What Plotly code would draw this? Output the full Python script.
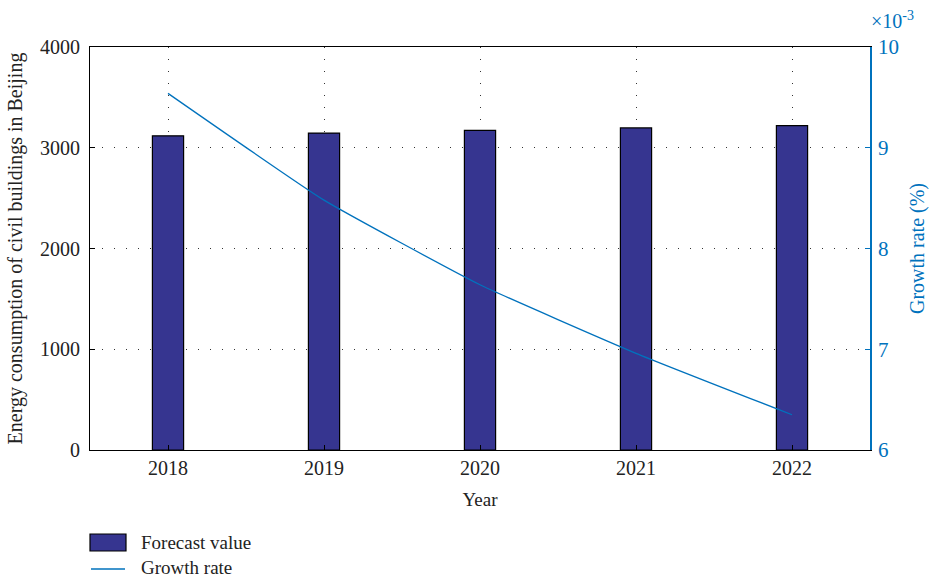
import plotly.graph_objects as go

years = [2018, 2019, 2020, 2021, 2022]
forecast = [3118, 3146, 3173, 3197, 3219]
growth_e3 = [9.54, 8.48, 7.64, 6.96, 6.35]   # growth rate, x10^-3

BLUE = "#0072BD"
BAR = "#363590"
FONT = "Liberation Serif"
GRID = "#333333"
DOT = "1px,11px"

W, H = 929, 577
L, R, T, B = 90, 59, 47, 0
PB = 450  # pixel bottom of plot
ph = H - T - B
dom_bottom = (H - B - PB) / ph

def px(X):
    return (X - L) / (W - L - R)

def py(Y):
    return (H - B - Y) / ph

fig = go.Figure()
fig.add_trace(go.Bar(x=years, y=forecast, name="Forecast value", width=0.2,
                     marker=dict(color=BAR, line=dict(color="black", width=1.2)),
                     yaxis="y", showlegend=False))
fig.add_trace(go.Scatter(x=years, y=growth_e3, name="Growth rate", mode="lines",
                         line=dict(color=BLUE, width=1.3, shape="spline", smoothing=0.4),
                         yaxis="y2", showlegend=False))

shapes = [
    dict(type="rect", xref="paper", yref="paper", x0=px(90), x1=px(126), y0=py(551), y1=py(534),
         fillcolor=BAR, line=dict(color="black", width=1.2)),
    dict(type="line", xref="paper", yref="paper", x0=px(91), x1=px(125), y0=py(569), y1=py(569),
         line=dict(color=BLUE, width=1.3)),
]
annotations = [
    dict(text="×10<sup>-3</sup>", xref="paper", yref="paper",
         x=1.0, y=1.0, xanchor="left", yanchor="bottom", yshift=13, xshift=-1,
         showarrow=False, font=dict(size=20, color=BLUE, family=FONT)),
    dict(text="Forecast value", xref="paper", yref="paper", x=px(139), y=py(542),
         xanchor="left", yanchor="middle", showarrow=False, font=dict(size=19, color="#222", family=FONT)),
    dict(text="Growth rate", xref="paper", yref="paper", x=px(139), y=py(567),
         xanchor="left", yanchor="middle", showarrow=False, font=dict(size=19, color="#222", family=FONT)),
]

fig.update_layout(
    width=W, height=H,
    margin=dict(l=L, r=R, t=T, b=B, autoexpand=False),
    plot_bgcolor="white", paper_bgcolor="white",
    font=dict(family=FONT, size=19, color="#222"),
    showlegend=False,
    shapes=shapes,
    annotations=annotations,
    xaxis=dict(range=[2017.5, 2022.5], tickvals=years, ticktext=[str(y) for y in years],
               anchor="y", automargin=False,
               showline=True, linecolor="black", linewidth=1, mirror=True,
               ticks="inside", ticklen=5, tickcolor="black",
               showgrid=True, gridcolor=GRID, griddash=DOT, gridwidth=1,
               title=dict(text="Year", font=dict(size=19), standoff=14),
               zeroline=False, tickfont=dict(size=20)),
    yaxis=dict(domain=[dom_bottom, 1], range=[0, 4000], tickvals=[0, 1000, 2000, 3000, 4000],
               automargin=False,
               showline=True, linecolor="black", linewidth=1,
               ticks="inside", ticklen=5, tickcolor="black", ticklabelstandoff=5,
               showgrid=True, gridcolor=GRID, griddash=DOT, gridwidth=1,
               zeroline=False, tickfont=dict(size=20),
               title=dict(text="Energy consumption of civil buildings in Beijing",
                          font=dict(size=20), standoff=12)),
    yaxis2=dict(range=[6, 10], tickvals=[6, 7, 8, 9, 10], overlaying="y", side="right",
                automargin=False,
                showline=True, linecolor=BLUE, linewidth=1.5,
                ticks="inside", ticklen=5, tickcolor=BLUE, ticklabelstandoff=2,
                showgrid=False, zeroline=False,
                tickfont=dict(size=21, color=BLUE),
                title=dict(text="Growth rate (%)", font=dict(size=20, color=BLUE), standoff=26)),
)

fig.write_html("out.html")
